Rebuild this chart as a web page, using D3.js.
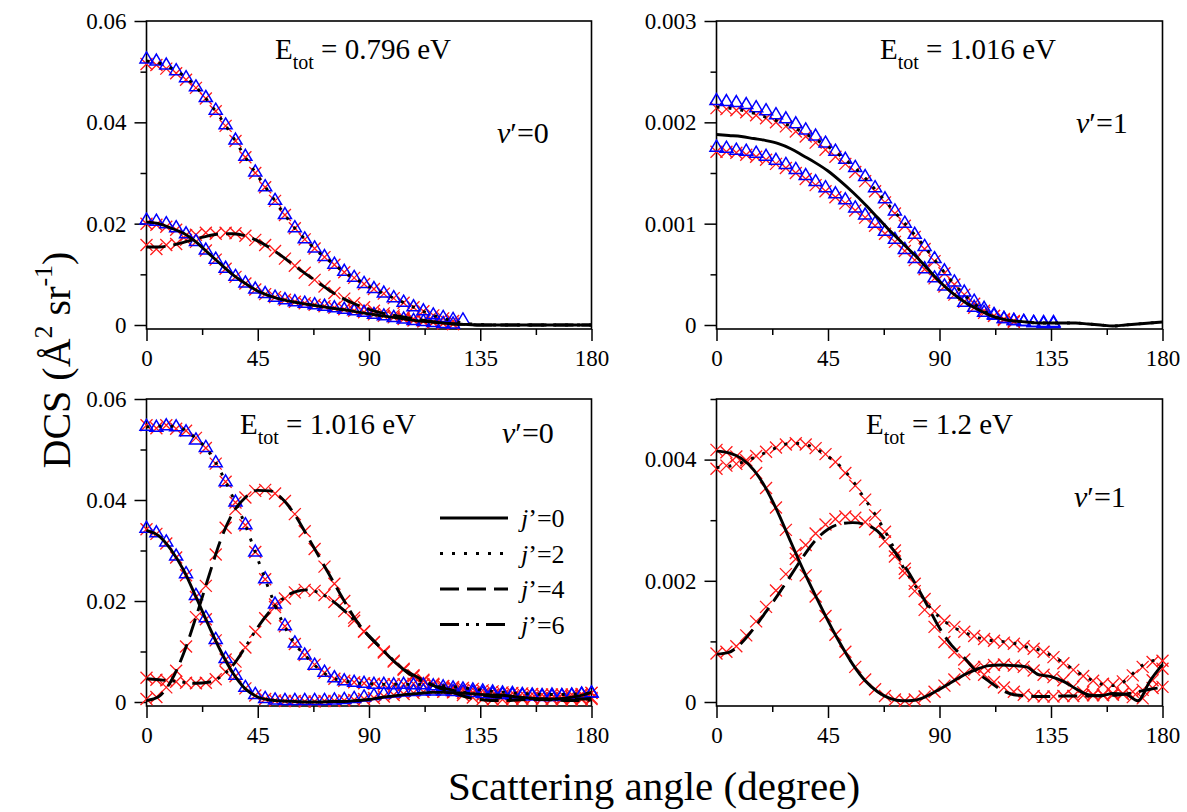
<!DOCTYPE html>
<html>
<head>
<meta charset="utf-8">
<script src="https://cdn.jsdelivr.net/npm/d3@7"></script>
<style>
  body { margin: 0; background: #fff; }
  svg text { fill: #000; }
</style>
</head>
<body>
<svg id="chart" width="1187" height="812" font-family="'Liberation Serif', 'Times New Roman', serif"></svg>
<script>
// angle grids (degrees)
const ang5 = [0,5,10,15,20,25,30,35,40,45,50,55,60,65,70,75,80,85,90,95,100,105,110,115,120,125,130,135,140,145,150,155,160,165,170,175,180];
const ang4 = [0,4,8,12,16,20,24,28,32,36,40,44,48,52,56,60,64,68,72,76,80,84,88,92,96,100,104,108,112,116,120,124,128,132,136,140,144,148,152,156,160,164,168,172,176,180];
const xMajor = [0,45,90,135,180];
const xMinor = [22.5,67.5,112.5,157.5];
const legendLabels = ["0","2","4","6"];

// ---- panel 1 : Etot = 0.796 eV, v'=0
const p1LineJ0 = [0.0203,0.0200,0.0191,0.0181,0.0164,0.0142,0.0120,0.0099,0.0082,0.0067,0.0057,0.0050,0.0045,0.0041,0.0037,0.0033,0.0030,0.0026,0.0022,0.0018,0.0015,0.0011,0.0008,0.0006,0.0004,0.0002,0.0001,0,0,0,0,0,0,0,0,0,0];
const p1LineJ2 = [0.0521,0.0517,0.0507,0.0492,0.0470,0.0441,0.0408,0.0371,0.0331,0.0294,0.0259,0.0224,0.0191,0.0165,0.0142,0.0123,0.0104,0.0090,0.0076,0.0064,0.0053,0.0042,0.0031,0.0021,0.0013,0.0007,0.0003,0.0001,0,0,0,0,0,0,0,0,0];
const p1LineJ4 = [0.0154,0.0154,0.0157,0.0163,0.0170,0.0176,0.0180,0.0180,0.0176,0.0166,0.0152,0.0135,0.0117,0.0099,0.0082,0.0065,0.0051,0.0040,0.0031,0.0024,0.0019,0.0015,0.0011,0.0007,0.0004,0.0002,0.0001,0,0,0,0,0,0,0,0,0,0];
const p1RedJ0 = [0.0200,0.0198,0.0194,0.0188,0.0177,0.0164,0.0147,0.0129,0.0111,0.0095,0.0082,0.0070,0.0061,0.0055,0.0050,0.0046,0.0043,0.0040,0.0037,0.0034,0.0031,0.0028,0.0025,0.0021,0.0018,0.0015,0.0012,0.0009,0.0007,0.0005,0.0003,0.0002];
const p1BlueJ0 = [0.0208,0.0206,0.0201,0.0193,0.0181,0.0166,0.0149,0.0131,0.0113,0.0097,0.0084,0.0072,0.0063,0.0056,0.0051,0.0047,0.0044,0.0041,0.0038,0.0035,0.0032,0.0029,0.0026,0.0022,0.0019,0.0016,0.0013,0.0010,0.0008,0.0006,0.0004,0.0003];
const p1RedJ2 = [0.0515,0.0513,0.0506,0.0497,0.0484,0.0468,0.0447,0.0422,0.0393,0.0363,0.0331,0.0300,0.0272,0.0245,0.0217,0.0191,0.0169,0.0151,0.0134,0.0119,0.0104,0.0093,0.0081,0.0071,0.0062,0.0053,0.0044,0.0035,0.0027,0.0019,0.0013,0.0008];
const p1BlueJ2 = [0.0526,0.0522,0.0514,0.0503,0.0489,0.0471,0.0450,0.0425,0.0396,0.0366,0.0334,0.0303,0.0274,0.0247,0.0219,0.0193,0.0171,0.0153,0.0136,0.0121,0.0107,0.0095,0.0083,0.0073,0.0064,0.0055,0.0046,0.0037,0.0029,0.0021,0.0016,0.0012,0.0011];
const p1RedJ4 = [0.0158,0.0150,0.0158,0.0160,0.0168,0.0178,0.0182,0.0180,0.0182,0.0181,0.0176,0.0168,0.0158,0.0146,0.0131,0.0117,0.0103,0.0089,0.0076,0.0063,0.0052,0.0043,0.0035,0.0028,0.0023,0.0019,0.0015,0.0012,0.0009,0.0006,0.0004,0.0002];

// ---- panel 2 : Etot = 1.016 eV, v'=1
const p2LineJ0 = [0.00188,0.00187,0.00186,0.00184,0.00182,0.00179,0.00174,0.00167,0.00160,0.00152,0.00142,0.00131,0.00119,0.00106,0.00093,0.00081,0.00069,0.00056,0.00043,0.00032,0.00023,0.00016,0.00010,0.00006,0.00004,0.00003,0.00002,0.00002,0.00002,0.00002,0.00001,0,-0.00001,0,0.00001,0.00002,0.00003];
const p2LineJ2 = [0.00215,0.00214,0.00212,0.00209,0.00205,0.00201,0.00196,0.00190,0.00183,0.00176,0.00167,0.00157,0.00145,0.00131,0.00117,0.00103,0.00089,0.00074,0.00058,0.00043,0.00030,0.00019,0.00011,0.00006,0.00004,0.00003,0.00002,0.00002,0.00002,0.00002,0.00001,0,-0.00001,0,0.00001,0.00002,0.00003];
const p2RedUp = [0.00214,0.00213,0.00212,0.00210,0.00207,0.00204,0.00200,0.00196,0.00191,0.00186,0.00180,0.00173,0.00166,0.00159,0.00151,0.00142,0.00132,0.00121,0.00110,0.00098,0.00087,0.00075,0.00063,0.00051,0.00040,0.00030,0.00021,0.00014,0.00009,0.00005,0.00003];
const p2BlueUp = [0.00222,0.00221,0.00220,0.00218,0.00215,0.00212,0.00208,0.00204,0.00199,0.00193,0.00187,0.00180,0.00172,0.00164,0.00156,0.00147,0.00136,0.00125,0.00113,0.00101,0.00090,0.00078,0.00066,0.00054,0.00043,0.00033,0.00024,0.00017,0.00011,0.00007,0.00005,0.00004,0.00003,0.00003,0.00003];
const p2RedLow = [0.00171,0.00171,0.00170,0.00168,0.00166,0.00163,0.00159,0.00155,0.00150,0.00144,0.00138,0.00132,0.00126,0.00120,0.00113,0.00106,0.00098,0.00090,0.00082,0.00073,0.00064,0.00055,0.00046,0.00038,0.00030,0.00023,0.00017,0.00012,0.00009,0.00006,0.00004];
const p2BlueLow = [0.00176,0.00175,0.00173,0.00172,0.00170,0.00167,0.00163,0.00159,0.00154,0.00148,0.00142,0.00136,0.00130,0.00124,0.00116,0.00109,0.00101,0.00093,0.00085,0.00075,0.00066,0.00056,0.00047,0.00039,0.00031,0.00023,0.00018,0.00013,0.00010,0.00007,0.00005,0.00004,0.00003,0.00002,0.00002];

// ---- panel 3 : Etot = 1.016 eV, v'=0
const p3LineJ0 = [0.0340,0.0329,0.0301,0.0261,0.0208,0.0153,0.0101,0.0057,0.0026,0.0010,0.0004,0.0002,0.0001,0,0,0.0001,0.0001,0.0003,0.0005,0.0009,0.0012,0.0015,0.0017,0.0019,0.0019,0.0018,0.0017,0.0015,0.0014,0.0013,0.0010,0.0008,0.0006,0.0006,0.0008,0.0012,0.0019];
const p3LineJ2 = [0.0545,0.0546,0.0546,0.0540,0.0522,0.0497,0.0456,0.0405,0.0350,0.0283,0.0217,0.0158,0.0115,0.0088,0.0064,0.0048,0.0042,0.0038,0.0036,0.0035,0.0035,0.0035,0.0035,0.0034,0.0032,0.0030,0.0027,0.0024,0.0021,0.0019,0.0017,0.0016,0.0015,0.0015,0.0015,0.0016,0.0018];
const p3LineJ4 = [0.0003,0.0011,0.0042,0.0096,0.0168,0.0246,0.0321,0.0375,0.0405,0.0419,0.0418,0.0402,0.0371,0.0329,0.0286,0.0243,0.0200,0.0160,0.0130,0.0106,0.0081,0.0062,0.0048,0.0035,0.0025,0.0017,0.0009,0.0005,0.0003,0.0003,0.0004,0.0005,0.0005,0.0004,0.0003,0.0003,0.0004];
const p3LineJ6 = [0.0046,0.0044,0.0042,0.0039,0.0037,0.0039,0.0050,0.0073,0.0109,0.0148,0.0180,0.0204,0.0218,0.0222,0.0216,0.0201,0.0181,0.0157,0.0131,0.0106,0.0082,0.0060,0.0045,0.0035,0.0028,0.0022,0.0018,0.0014,0.0011,0.0009,0.0008,0.0007,0.0006,0.0006,0.0006,0.0006,0.0007];
const p3RedJ0 = [0.0342,0.0333,0.0314,0.0286,0.0251,0.0208,0.0164,0.0122,0.0084,0.0051,0.0027,0.0013,0.0006,0.0003,0.0002,0.0002,0.0001,0.0001,0.0002,0.0002,0.0003,0.0004,0.0006,0.0008,0.0011,0.0014,0.0016,0.0018,0.0020,0.0021,0.0020,0.0019,0.0018,0.0017,0.0015,0.0014,0.0013,0.0011,0.0009,0.0008,0.0007,0.0007,0.0008,0.0010,0.0013,0.0018];
const p3BlueJ0 = [0.0345,0.0336,0.0318,0.0290,0.0255,0.0212,0.0168,0.0125,0.0087,0.0054,0.0030,0.0016,0.0008,0.0005,0.0004,0.0004,0.0004,0.0004,0.0004,0.0005,0.0006,0.0008,0.0011,0.0014,0.0017,0.0019,0.0021,0.0022,0.0023,0.0023,0.0023,0.0022,0.0021,0.0020,0.0018,0.0017,0.0016,0.0015,0.0014,0.0013,0.0012,0.0012,0.0013,0.0014,0.0016,0.0019];
const p3RedJ2 = [0.0548,0.0542,0.0548,0.0541,0.0537,0.0523,0.0503,0.0472,0.0436,0.0395,0.0350,0.0297,0.0243,0.0193,0.0150,0.0115,0.0093,0.0074,0.0058,0.0046,0.0042,0.0039,0.0037,0.0036,0.0035,0.0035,0.0035,0.0036,0.0035,0.0034,0.0032,0.0030,0.0028,0.0026,0.0023,0.0021,0.0019,0.0018,0.0017,0.0016,0.0015,0.0015,0.0015,0.0015,0.0016,0.0018];
const p3BlueJ2 = [0.0547,0.0545,0.0548,0.0546,0.0536,0.0520,0.0505,0.0475,0.0437,0.0397,0.0352,0.0298,0.0245,0.0195,0.0152,0.0118,0.0094,0.0074,0.0060,0.0049,0.0043,0.0040,0.0038,0.0036,0.0036,0.0035,0.0036,0.0035,0.0035,0.0033,0.0031,0.0029,0.0027,0.0025,0.0023,0.0021,0.0019,0.0018,0.0016,0.0015,0.0014,0.0015,0.0014,0.0015,0.0017,0.0019];
const p3RedJ4 = [0.0006,0.0010,0.0029,0.0062,0.0110,0.0168,0.0230,0.0292,0.0345,0.0382,0.0405,0.0418,0.0420,0.0413,0.0398,0.0372,0.0338,0.0303,0.0268,0.0234,0.0200,0.0167,0.0140,0.0119,0.0100,0.0082,0.0066,0.0053,0.0044,0.0034,0.0027,0.0020,0.0014,0.0009,0.0006,0.0005,0.0005,0.0006,0.0006,0.0007,0.0007,0.0006,0.0005,0.0005,0.0005,0.0006];
const p3RedJ6 = [0.0048,0.0044,0.0043,0.0040,0.0038,0.0037,0.0038,0.0045,0.0060,0.0080,0.0108,0.0139,0.0166,0.0188,0.0205,0.0217,0.0222,0.0220,0.0212,0.0198,0.0180,0.0161,0.0139,0.0118,0.0098,0.0080,0.0064,0.0051,0.0042,0.0036,0.0031,0.0027,0.0023,0.0019,0.0016,0.0013,0.0011,0.0010,0.0009,0.0008,0.0007,0.0007,0.0007,0.0007,0.0007,0.0008];

// ---- panel 4 : Etot = 1.2 eV, v'=1
const p4LineJ0 = [0.00414,0.00411,0.00402,0.00383,0.00352,0.00311,0.00264,0.00218,0.00175,0.00134,0.00096,0.00062,0.00035,0.00017,0.00006,0.00002,0.00003,0.00010,0.00021,0.00033,0.00045,0.00054,0.00060,0.00061,0.00060,0.00058,0.00045,0.00042,0.00034,0.00022,0.00012,0.00010,0.00014,0.00013,0.00002,0.00035,0.00062];
const p4LineJ2 = [0.00387,0.00389,0.00395,0.00403,0.00412,0.00421,0.00427,0.00426,0.00418,0.00405,0.00389,0.00365,0.00334,0.00303,0.00267,0.00225,0.00193,0.00162,0.00140,0.00125,0.00115,0.00107,0.00102,0.00100,0.00097,0.00091,0.00086,0.00077,0.00065,0.00051,0.00039,0.00030,0.00027,0.00035,0.00055,0.00067,0.00070];
const p4LineJ4 = [0.00079,0.00082,0.00097,0.00121,0.00149,0.00178,0.00209,0.00240,0.00267,0.00285,0.00294,0.00296,0.00293,0.00282,0.00258,0.00230,0.00197,0.00160,0.00122,0.00093,0.00073,0.00050,0.00034,0.00020,0.00012,0.00010,0.00009,0.00009,0.00010,0.00010,0.00010,0.00011,0.00011,0.00013,0.00017,0.00021,0.00024];
const p4RedJ0 = [0.00416,0.00412,0.00405,0.00395,0.00378,0.00353,0.00321,0.00284,0.00246,0.00209,0.00174,0.00142,0.00111,0.00083,0.00058,0.00037,0.00021,0.00010,0.00004,0.00002,0.00004,0.00009,0.00017,0.00027,0.00037,0.00046,0.00053,0.00058,0.00061,0.00062,0.00060,0.00058,0.00052,0.00045,0.00041,0.00036,0.00025,0.00016,0.00012,0.00011,0.00014,0.00013,0.00008,0.00006,0.00036,0.00055];
const p4RedJ2 = [0.00385,0.00390,0.00393,0.00399,0.00406,0.00413,0.00420,0.00425,0.00427,0.00425,0.00419,0.00409,0.00396,0.00378,0.00357,0.00334,0.00308,0.00281,0.00250,0.00220,0.00195,0.00170,0.00150,0.00134,0.00124,0.00116,0.00109,0.00104,0.00101,0.00098,0.00096,0.00092,0.00088,0.00083,0.00074,0.00064,0.00053,0.00043,0.00035,0.00030,0.00029,0.00034,0.00044,0.00058,0.00066,0.00068];
const p4RedJ4 = [0.00080,0.00083,0.00092,0.00110,0.00133,0.00157,0.00184,0.00211,0.00236,0.00259,0.00278,0.00293,0.00302,0.00306,0.00304,0.00297,0.00285,0.00265,0.00240,0.00213,0.00183,0.00152,0.00124,0.00099,0.00082,0.00070,0.00058,0.00045,0.00033,0.00024,0.00017,0.00012,0.00010,0.00009,0.00009,0.00010,0.00010,0.00011,0.00011,0.00012,0.00012,0.00014,0.00017,0.00020,0.00023,0.00025];

// line styles for j' = 0, 2, 4, 6
const dash = { j0: null, j2: "3,9", j4: "19,8", j6: "19,7,3,7,3,7" };

const panels = [
  { left: 146.5, right: 591.5, top: 21, zero: 325, yMax: 0.06, yMajor: [0,0.02,0.04,0.06], yMinor: [0.01,0.03,0.05], fmt: ".2f",
    energy: "0.796", titleX: 275, titleY: 59, vib: "0", vibX: 497, vibY: 143,
    lines: [[p1LineJ0,"j0"],[p1LineJ2,"j2"],[p1LineJ4,"j4"]],
    red: [p1RedJ0,p1RedJ2,p1RedJ4], blue: [p1BlueJ0,p1BlueJ2] },
  { left: 716.5, right: 1162.5, top: 21, zero: 325, yMax: 0.003, yMajor: [0,0.001,0.002,0.003], yMinor: [0.0005,0.0015,0.0025], fmt: ".3f",
    energy: "1.016", titleX: 880, titleY: 59, vib: "1", vibX: 1076, vibY: 133,
    lines: [[p2LineJ0,"j0"],[p2LineJ2,"j2"]],
    red: [p2RedUp,p2RedLow], blue: [p2BlueUp,p2BlueLow] },
  { left: 146.5, right: 591.5, top: 399, zero: 702, yMax: 0.06, yMajor: [0,0.02,0.04,0.06], yMinor: [0.01,0.03,0.05], fmt: ".2f",
    energy: "1.016", titleX: 240, titleY: 434, vib: "0", vibX: 502, vibY: 443,
    lines: [[p3LineJ0,"j0"],[p3LineJ2,"j2"],[p3LineJ4,"j4"],[p3LineJ6,"j6"]],
    red: [p3RedJ0,p3RedJ2,p3RedJ4,p3RedJ6], blue: [p3BlueJ0,p3BlueJ2], legend: true },
  { left: 716.5, right: 1162.5, top: 399, zero: 702, yMax: 0.005, yMajor: [0,0.002,0.004], yMinor: [0.001,0.003,0.005], fmt: ".3f",
    energy: "1.2", titleX: 866, titleY: 434, vib: "1", vibX: 1074, vibY: 507,
    lines: [[p4LineJ0,"j0"],[p4LineJ2,"j2"],[p4LineJ4,"j4"]],
    red: [p4RedJ0,p4RedJ2,p4RedJ4], blue: [] }
];

const svg = d3.select("#chart");
const serif = "'Liberation Serif', 'Times New Roman', serif";
const crossPath = "M-6,-6L6,6M-6,6L6,-6";
const triPath = "M0,-6.5L6.5,4.5L-6.5,4.5Z";

function drawPanel(p) {
  const x = d3.scaleLinear().domain([0, 180]).range([p.left, p.right]);
  const y = d3.scaleLinear().domain([0, p.yMax]).range([p.zero, p.top]);
  const bottom = p.zero + 4;
  const g = svg.append("g");
  const fmt = d => d === 0 ? "0" : d3.format(p.fmt)(d);

  // axes (ticks outward, minor ticks shorter)
  g.append("g").attr("transform", `translate(0,${bottom})`)
    .call(d3.axisBottom(x).tickValues(xMajor).tickSize(12).tickPadding(9).tickFormat(d3.format("d")));
  g.append("g").attr("transform", `translate(0,${bottom})`)
    .call(d3.axisBottom(x).tickValues(xMinor).tickSize(6).tickFormat(""));
  g.append("g").attr("transform", `translate(${p.left},0)`)
    .call(d3.axisLeft(y).tickValues(p.yMajor).tickSize(12).tickPadding(8).tickFormat(fmt));
  g.append("g").attr("transform", `translate(${p.left},0)`)
    .call(d3.axisLeft(y).tickValues(p.yMinor).tickSize(6).tickFormat(""));
  g.selectAll(".domain").remove();
  g.selectAll("g").attr("font-family", serif).attr("font-size", 23);
  g.selectAll(".tick line").attr("stroke", "#000").attr("stroke-width", 1.5);

  g.append("rect")
    .attr("x", p.left).attr("y", p.top)
    .attr("width", p.right - p.left).attr("height", bottom - p.top)
    .attr("fill", "none").attr("stroke", "#000").attr("stroke-width", 1.6);

  // red crosses
  p.red.forEach(vals => {
    g.append("g").selectAll("path").data(vals).join("path")
      .attr("d", crossPath)
      .attr("transform", (d, i) => `translate(${x(ang4[i])},${y(d)})`)
      .attr("fill", "none").attr("stroke", "#ff1a1a").attr("stroke-width", 1.3);
  });
  // blue triangles
  p.blue.forEach(vals => {
    g.append("g").selectAll("path").data(vals).join("path")
      .attr("d", triPath)
      .attr("transform", (d, i) => `translate(${x(ang4[i])},${y(d)})`)
      .attr("fill", "none").attr("stroke", "#0000ff").attr("stroke-width", 1.5);
  });

  // black curves
  const line = d3.line().x((d, i) => x(ang5[i])).y(d => y(d)).curve(d3.curveMonotoneX);
  p.lines.forEach(([vals, j]) => {
    g.append("path").datum(vals)
      .attr("d", line)
      .attr("fill", "none").attr("stroke", "#000").attr("stroke-width", 2.9)
      .attr("stroke-dasharray", dash[j]);
  });

  // E_tot title
  const t = g.append("text").attr("x", p.titleX).attr("y", p.titleY)
    .attr("font-family", serif).attr("font-size", 29);
  t.append("tspan").text("E");
  t.append("tspan").attr("font-size", 20).attr("dy", 10).text("tot");
  t.append("tspan").attr("dy", -10).text(` = ${p.energy} eV`);

  // v' label
  const v = g.append("text").attr("x", p.vibX).attr("y", p.vibY)
    .attr("font-family", serif).attr("font-size", 30);
  v.append("tspan").attr("font-style", "italic").text("v");
  v.append("tspan").text(`′=${p.vib}`);

  if (p.legend) {
    legendLabels.forEach((lab, i) => {
      const ly = 518 + i * 35.5;
      g.append("line")
        .attr("x1", 440).attr("x2", 508).attr("y1", ly).attr("y2", ly)
        .attr("stroke", "#000").attr("stroke-width", 2.9)
        .attr("stroke-dasharray", dash["j" + lab]);
      const lt = g.append("text").attr("x", 521).attr("y", ly + 9)
        .attr("font-family", serif).attr("font-size", 26);
      lt.append("tspan").attr("font-style", "italic").text("j");
      lt.append("tspan").text(`’=${lab}`);
    });
  }
}

panels.forEach(drawPanel);

// axis titles
svg.append("text")
  .attr("x", 654).attr("y", 800)
  .attr("text-anchor", "middle").attr("font-family", serif).attr("font-size", 41)
  .text("Scattering angle (degree)");

const yt = svg.append("text")
  .attr("transform", "translate(70,360)rotate(-90)")
  .attr("text-anchor", "middle").attr("font-family", serif).attr("font-size", 40);
yt.append("tspan").text("DCS (Å");
yt.append("tspan").attr("font-size", 26).attr("dy", -18).text("2");
yt.append("tspan").attr("dy", 18).text(" sr");
yt.append("tspan").attr("font-size", 26).attr("dy", -18).text("-1");
yt.append("tspan").attr("dy", 18).text(")");
</script>
</body>
</html>
